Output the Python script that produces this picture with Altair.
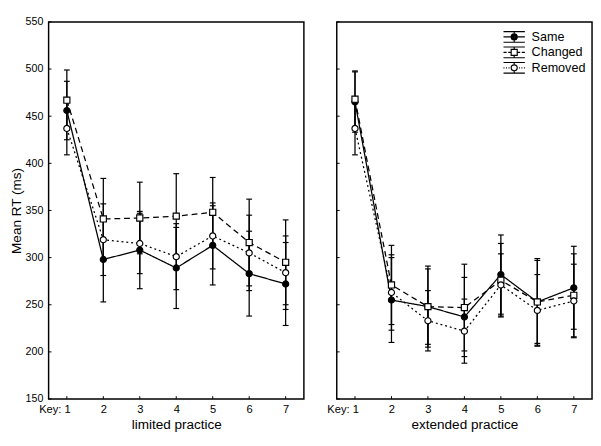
import altair as alt
import pandas as pd

SERIES = ["Same", "Changed", "Removed"]
KEYS = [1, 2, 3, 4, 5, 6, 7]
YTICKS = [150, 200, 250, 300, 350, 400, 450, 500, 550]
PANELS = ["limited practice", "extended practice"]

# limited practice
same_mean_lim = [456, 298, 308, 289, 313, 283, 272]
same_err_lim = [31, 45, 41, 43, 42, 45, 44]
changed_mean_lim = [467, 341, 342, 344, 348, 316, 295]
changed_err_lim = [32, 43, 38, 45, 37, 46, 45]
removed_mean_lim = [437, 319, 315, 301, 323, 305, 284]
removed_err_lim = [28, 38, 32, 35, 35, 40, 39]

# extended practice
same_mean_ext = [465, 255, 248, 237, 282, 253, 268]
same_err_ext = [32, 45, 40, 42, 42, 46, 44]
changed_mean_ext = [468, 271, 248, 247, 276, 253, 260]
changed_err_ext = [30, 42, 43, 46, 39, 44, 44]
removed_mean_ext = [437, 263, 233, 222, 271, 244, 254]
removed_err_ext = [28, 40, 32, 34, 33, 38, 39]

DATA = {
    "limited practice": {
        "Same": (same_mean_lim, same_err_lim),
        "Changed": (changed_mean_lim, changed_err_lim),
        "Removed": (removed_mean_lim, removed_err_lim),
    },
    "extended practice": {
        "Same": (same_mean_ext, same_err_ext),
        "Changed": (changed_mean_ext, changed_err_ext),
        "Removed": (removed_mean_ext, removed_err_ext),
    },
}

rows = []
for panel in PANELS:
    for s in SERIES:
        means, errs = DATA[panel][s]
        for k, m, e in zip(KEYS, means, errs):
            rows.append({"panel": panel, "series": s, "key": k, "mean": m,
                         "lo": m - e, "hi": m + e})
df = pd.DataFrame(rows)

# legend glyphs (error bar + line style + marker); unit box scaled by sqrt(size)/2
R = 0.48


def ring(r):
    return f"M{r},0A{r},{r},0,1,1,-{r},0A{r},{r},0,1,1,{r},0"


BAR = f"M-1.7,-0.85H1.7M-1.7,0.85H1.7M0,-0.85V-{R}M0,{R}V0.85"
LEG_PATHS = [
    BAR + f"M-1.7,0H-{R}M{R},0H1.7" + ring(R) + ring(0.33) + ring(0.18) + ring(0.05),
    BAR + f"M-1.7,0H-1.2M-0.95,0H-{R}M{R},0H0.95M1.2,0H1.7"
    + f"M-{R},-{R}H{R}V{R}H-{R}Z",
    BAR + "M-1.7,0H-1.55M-1.3,0H-1.15M-0.9,0H-0.75M0.75,0H0.9M1.15,0H1.3M1.55,0H1.7"
    + ring(R),
]

W, H = 264, 390
XSCALE = alt.Scale(domain=[0.5, 7.5], nice=False, zero=False)
YSCALE = alt.Scale(domain=[150, 550], nice=False, zero=False)


def xenc(field, title):
    return alt.X(
        f"{field}:Q", scale=XSCALE,
        axis=alt.Axis(
            values=KEYS, title=title, ticks=False, domain=False, grid=False,
            labelExpr="datum.value == 1 ? 'Key: 1' : datum.label",
            labelAlign={"condition": {"test": "datum.value == 1", "value": "right"}, "value": "center"},
            labelOffset={"condition": {"test": "datum.value == 1", "value": 3.5}, "value": 0},
            labelFontSize=11.5, labelPadding=5, labelColor="black",
            titleFontSize=14, titleFontWeight="normal", titlePadding=3, titleColor="black",
        ),
    )


def yenc(field, show):
    if show:
        axis = alt.Axis(values=YTICKS, title="Mean RT (ms)", ticks=False, domain=False,
                        grid=False, labelFontSize=11, labelPadding=6, labelColor="black",
                        titleFontSize=14, titleFontWeight="normal", titlePadding=2,
                        titleColor="black")
    else:
        axis = None
    return alt.Y(f"{field}:Q", scale=YSCALE, axis=axis)


def panel(name, show_y, legend):
    base = alt.Chart(df).transform_filter(alt.datum.panel == name)
    x = xenc("key", name)
    bars = base.mark_rule(color="black", strokeWidth=1.3).encode(
        x=x, y=yenc("lo", show_y), y2="hi:Q")
    cap_hi = base.mark_tick(orient="horizontal", size=6, thickness=1.2, color="black",
                            opacity=1).encode(x=x, y=yenc("hi", show_y))
    cap_lo = base.mark_tick(orient="horizontal", size=6, thickness=1.2, color="black",
                            opacity=1).encode(x=x, y=yenc("lo", show_y))
    lines = base.mark_line(color="black", strokeWidth=1.3).encode(
        x=x, y=yenc("mean", show_y),
        strokeDash=alt.StrokeDash("series:N", scale=alt.Scale(
            domain=SERIES, range=[[1, 0], [6, 4], [2, 3]]), legend=None),
        detail="series:N",
    )
    points = base.mark_point(filled=True, stroke="black", strokeWidth=1.2, size=40,
                             opacity=1).encode(
        x=x, y=yenc("mean", show_y),
        shape=alt.Shape("series:N", scale=alt.Scale(
            domain=SERIES, range=["circle", "square", "circle"]), legend=None),
        fill=alt.Fill("series:N", scale=alt.Scale(
            domain=SERIES, range=["black", "white", "white"]), legend=None),
    )
    ytick = alt.Chart(pd.DataFrame({"t": YTICKS})).mark_rule(
        color="black", strokeWidth=1).encode(
        y=yenc("t", show_y), x=alt.value(0), x2=alt.value(3))
    xtick = alt.Chart(pd.DataFrame({"k": KEYS})).mark_rule(
        color="black", strokeWidth=1).encode(
        x=xenc("k", name), y=alt.value(H), y2=alt.value(H - 3))
    layers = [bars, cap_hi, cap_lo, lines, points, ytick, xtick]
    if legend:
        leg_df = pd.DataFrame({"legend_series": SERIES})
        lg = alt.Legend(title=None, orient="none", legendX=176, legendY=8, padding=0,
                        rowPadding=-2, symbolSize=169, labelOffset=10.5,
                        labelFontSize=13, labelColor="black",
                        symbolStrokeColor="black", symbolStrokeWidth=1.2,
                        symbolFillColor="transparent", labelLimit=200)
        leg = alt.Chart(leg_df).mark_point(
            filled=False, color="black", strokeWidth=1.2, size=169, opacity=1,
            clip=True).encode(
            x=alt.value(-60), y=alt.value(-60),
            shape=alt.Shape("legend_series:N", scale=alt.Scale(
                domain=SERIES, range=LEG_PATHS), legend=lg),
        )
        layers.append(leg)
    ch = alt.layer(*layers).properties(width=W, height=H)
    if legend:
        ch = ch.resolve_scale(shape="independent", fill="independent").resolve_legend(
            shape="independent", fill="independent")
    return ch


chart = alt.hconcat(
    panel("limited practice", True, False),
    panel("extended practice", False, True),
    spacing=22,
).resolve_scale(
    shape="independent", fill="independent", strokeDash="independent"
).resolve_legend(
    shape="independent", fill="independent", strokeDash="independent"
).properties(
    padding={"left": 0, "top": 0, "right": 0, "bottom": 0}
).configure(
    font="Liberation Sans"
).configure_view(
    stroke="black", strokeWidth=1.5
)

chart.save("out.html", embed_options={"renderer": "svg", "actions": False})
